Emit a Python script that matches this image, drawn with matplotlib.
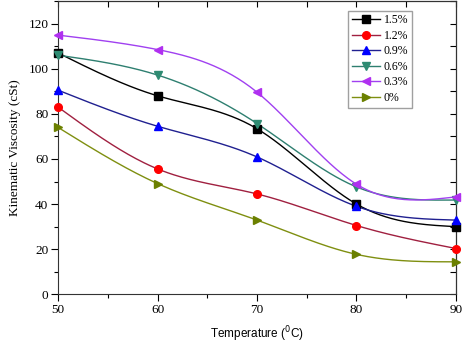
import numpy as np
import matplotlib
matplotlib.use('Agg')
import matplotlib.pyplot as plt
from matplotlib.ticker import MultipleLocator

temps = [50, 60, 70, 80, 90]
labels = ['1.5%', '1.2%', '0.9%', '0.6%', '0.3%', '0%']
visc_15 = [107.0, 88.0, 73.4, 40.0, 30.0]
visc_12 = [83.0, 55.6, 44.5, 30.5, 20.3]
visc_09 = [90.5, 74.5, 60.9, 39.0, 32.9]
visc_06 = [106.0, 97.2, 75.7, 47.6, 41.8]
visc_03 = [114.9, 108.5, 89.6, 48.8, 43.2]
visc_00 = [74.0, 49.1, 32.9, 17.7, 14.4]
series = [visc_15, visc_12, visc_09, visc_06, visc_03, visc_00]

markers = ['s', 'o', '^', 'v', '<', '>']
mcolors = ['#000000', '#ff0000', '#0000ff', '#2e8b72', '#b030f0', '#6b8000']
lcolors = ['#000000', '#a02040', '#202090', '#2e7f70', '#a040f0', '#7f8f10']

SERIF = 'Liberation Serif'
SANS = 'Liberation Sans'


def spline(x, y, n=200):
    # natural cubic spline, used only to draw the smooth connecting line
    x = np.asarray(x, float)
    y = np.asarray(y, float)
    k = len(x)
    h = np.diff(x)
    A = np.zeros((k, k))
    b = np.zeros(k)
    A[0, 0] = A[-1, -1] = 1
    for i in range(1, k - 1):
        A[i, i - 1] = h[i - 1]
        A[i, i] = 2 * (h[i - 1] + h[i])
        A[i, i + 1] = h[i]
        b[i] = 6 * ((y[i + 1] - y[i]) / h[i] - (y[i] - y[i - 1]) / h[i - 1])
    m = np.linalg.solve(A, b)
    xs = np.linspace(x[0], x[-1], n)
    idx = np.clip(np.searchsorted(x, xs) - 1, 0, k - 2)
    x0, x1 = x[idx], x[idx + 1]
    hh = x1 - x0
    t0 = x1 - xs
    t1 = xs - x0
    ys = (m[idx] * t0 ** 3 + m[idx + 1] * t1 ** 3) / (6 * hh) \
        + (y[idx] / hh - m[idx] * hh / 6) * t0 \
        + (y[idx + 1] / hh - m[idx + 1] * hh / 6) * t1
    return xs, ys


fig = plt.figure(figsize=(4.74, 3.49), dpi=100)
ax = fig.add_axes([0.1224, 0.1567, 0.8396, 0.8403])

handles = []
for vals, lab, mk, mc, lc in zip(series, labels, markers, mcolors, lcolors):
    xs, ys = spline(temps, vals)
    ax.plot(xs, ys, color=lc, lw=1.0, zorder=2)
    ax.plot(temps, vals, ls='none', marker=mk, ms=5.5, color=mc,
            markeredgecolor=mc, zorder=3, clip_on=False)
    h, = ax.plot([], [], color=lc, lw=1.0, marker=mk, ms=5.5,
                 markerfacecolor=mc, markeredgecolor=mc, label=lab)
    handles.append(h)

ax.set_xlim(50, 90)
ax.set_ylim(0, 130)
ax.xaxis.set_major_locator(MultipleLocator(10))
ax.xaxis.set_minor_locator(MultipleLocator(5))
ax.yaxis.set_major_locator(MultipleLocator(20))
ax.yaxis.set_minor_locator(MultipleLocator(10))
ax.tick_params(which='major', direction='out', length=5, width=0.8,
               labelsize=9.5, pad=2)
ax.tick_params(which='minor', direction='out', length=3, width=0.8)
for t in ax.get_xticklabels() + ax.get_yticklabels():
    t.set_fontfamily(SERIF)

top = ax.secondary_xaxis('top')
top.xaxis.set_major_locator(MultipleLocator(5))
top.tick_params(direction='in', length=4, width=0.8, labeltop=False)
right = ax.secondary_yaxis('right')
right.yaxis.set_major_locator(MultipleLocator(10))
right.tick_params(direction='in', length=4, width=0.8, labelright=False)

for sp in ax.spines.values():
    sp.set_color('#333333')

ax.set_xlabel('Temperature ($^{0}$C)', fontsize=8.5, fontfamily=SANS, labelpad=6)
ax.set_ylabel('Kinematic Viscosity (cSt)', fontsize=9.5, fontfamily=SERIF, labelpad=5)

ax.legend(handles=handles, loc='upper right', bbox_to_anchor=(0.895, 0.975),
          prop={'family': SERIF, 'size': 8.5}, frameon=True, fancybox=False,
          edgecolor='#888888', handlelength=2.4, handletextpad=0.3,
          labelspacing=0.3, borderpad=0.3, borderaxespad=0.2)

fig.savefig('out.png', dpi=100)
